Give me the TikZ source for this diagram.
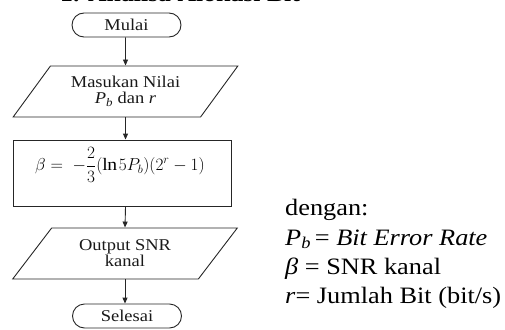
\documentclass[tikz,border=0pt]{standalone}
\usepackage{fontspec}
\setmainfont{Liberation Serif}[FakeStretch=1.12]
\usetikzlibrary{shapes.geometric,shapes.misc,arrows.meta}

\begin{document}
\begin{tikzpicture}[x=1pt,y=-1pt,
  flowline/.style={draw=black!85, line width=0.9pt},
  term/.style={flowline, rounded rectangle, minimum width=109pt, minimum height=24pt,
    inner sep=0pt, text=black!90, font=\fontsize{16.5}{18}\selectfont},
  io/.style={flowline, trapezium, trapezium left angle=48, trapezium right angle=132,
    trapezium stretches=true, minimum width=225pt, minimum height=51pt, inner sep=0pt,
    align=center, text=black!90, font=\fontsize{16.5}{16}\selectfont},
  proc/.style={flowline, rectangle, minimum width=218pt, minimum height=66pt, inner sep=0pt},
  arr/.style={flowline, -{Triangle[length=6pt,width=5pt]}},
  note/.style={anchor=base west, inner sep=0pt, font=\fontsize{23.5}{28}\selectfont}
]
\useasboundingbox (0,0) rectangle (505,329);

% heading, mostly above the page edge
\node[anchor=base west, inner sep=0pt, font=\bfseries\fontsize{23}{28}\selectfont]
  (title) at (60,2) {1. Analisa Alokasi Bit};

% flowchart
\node[term] (mulai) at (126.5,25) {Mulai};
\node[io] (in) at (125.5,91.5) {Masukan Nilai\\\textit{P}\textsubscript{\textit{b}} dan \textit{r}};
\node[proc, label={[xshift=-2pt, yshift=8pt, font=\fontsize{17.5}{20}\selectfont]center:%
  $\displaystyle\beta =\;-\frac{2}{3}(\ln 5P_b)(2^r-1)$}] (beta) at (122,173) {};
\node[io] (out) at (125,253.5) {Output SNR\\kanal};
\node[term] (selesai) at (127,316) {Selesai};

\draw[arr] (mulai.south -| in.center) -- (in.north);
\draw[arr] (in.south) -- (in.south |- beta.north);
\draw[arr] (in.south |- beta.south) -- (out.north);
\draw[arr] (out.south) -- (out.south |- selesai.north);

% legend
\node[note] (dg) at (285,215) {dengan:};
\node[note] (pb) at (285,245) {\textit{P}\textsubscript{\textit{b}}\,= \textit{Bit Error Rate}};
\node[note] (bt) at (285,274) {\textit{β} = SNR kanal};
\node[note] (rr) at (285,303) {\textit{r}= Jumlah Bit (bit/s)};
\end{tikzpicture}
\end{document}
